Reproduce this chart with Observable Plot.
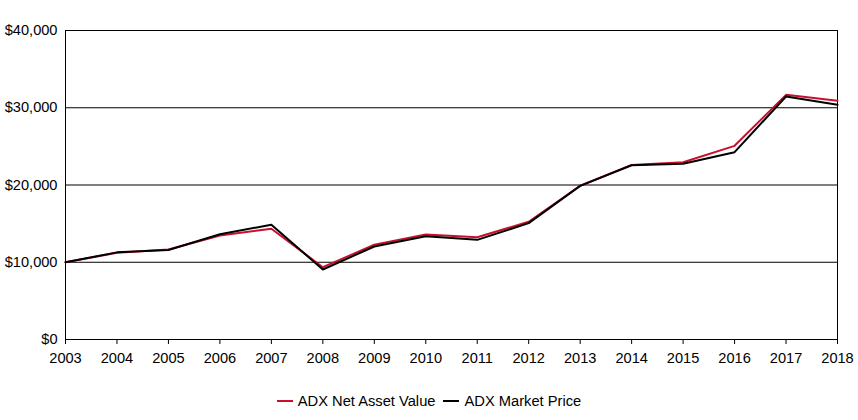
<!DOCTYPE html>
<html>
<head>
<meta charset="utf-8">
<script src="https://cdn.jsdelivr.net/npm/d3@7"></script>
<script src="https://cdn.jsdelivr.net/npm/@observablehq/plot@0.6"></script>
<style>
  body { margin: 0; background: #fff; font-family: "Liberation Sans", Arial, sans-serif; }
  #legend { display: flex; justify-content: center; align-items: center; height: 62px; font-size: 14.7px; color: #000; gap: 8px; }
  .item { display: flex; align-items: center; gap: 5px; }
  .swatch { width: 16px; height: 2px; display: inline-block; }
</style>
</head>
<body>
<div id="chart"></div>
<div id="legend"></div>
<script>
const years = [2003,2004,2005,2006,2007,2008,2009,2010,2011,2012,2013,2014,2015,2016,2017,2018];
const navValues = [10000,11220,11650,13460,14330,9360,12260,13590,13240,15240,19900,22600,22950,25070,31670,30900];
const marketValues = [10000,11280,11580,13630,14850,9060,12040,13370,12900,15060,19880,22550,22740,24250,31460,30380];
const seriesNames = ["ADX Net Asset Value", "ADX Market Price"];
const seriesColors = ["#c8102e", "#000000"];
const yTicks = [0, 10000, 20000, 30000, 40000];

const data = [];
years.forEach((y, i) => data.push({year: y, value: navValues[i], series: seriesNames[0]}));
years.forEach((y, i) => data.push({year: y, value: marketValues[i], series: seriesNames[1]}));

const chart = Plot.plot({
  width: 858,
  height: 370,
  marginLeft: 65,
  marginRight: 21,
  marginTop: 30,
  marginBottom: 31,
  style: { fontFamily: "'Liberation Sans', Arial, sans-serif", fontSize: "14.6px", color: "#000", background: "#fff" },
  x: { domain: [2003, 2018], label: null },
  y: { domain: [0, 40000], label: null },
  marks: [
    Plot.ruleY(yTicks, { stroke: "#000", strokeWidth: 1 }),
    Plot.frame({ stroke: "#000", strokeWidth: 1 }),
    Plot.line(data.filter(d => d.series === seriesNames[0]), { x: "year", y: "value", stroke: seriesColors[0], strokeWidth: 2 }),
    Plot.line(data.filter(d => d.series === seriesNames[1]), { x: "year", y: "value", stroke: seriesColors[1], strokeWidth: 2 }),
    Plot.axisX({ ticks: years, tickFormat: d => String(d), tickSize: 5, tickPadding: 8, stroke: "#000", fill: "#000" }),
    Plot.axisY({ ticks: yTicks, tickFormat: d => "$" + d3.format(",")(d), tickSize: 0, tickPadding: 8, fill: "#000" })
  ]
});
document.getElementById("chart").appendChild(chart);

const legend = document.getElementById("legend");
seriesNames.forEach((name, i) => {
  const item = document.createElement("span");
  item.className = "item";
  const sw = document.createElement("span");
  sw.className = "swatch";
  sw.style.background = seriesColors[i];
  const t = document.createElement("span");
  t.textContent = name;
  item.appendChild(sw);
  item.appendChild(t);
  legend.appendChild(item);
});
</script>
</body>
</html>
